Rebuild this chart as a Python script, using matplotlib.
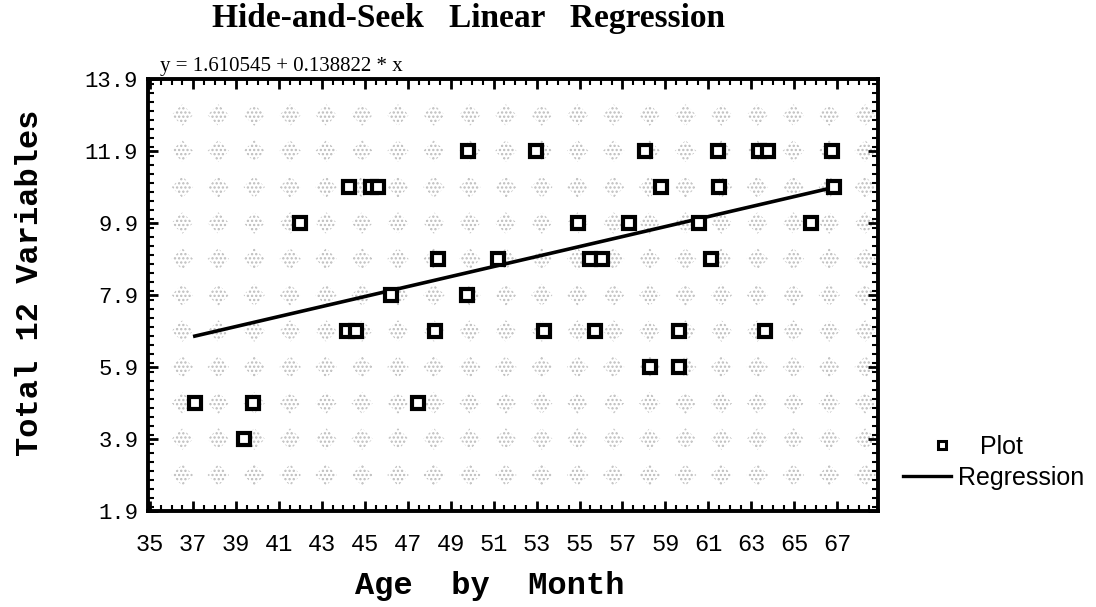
import numpy as np
import matplotlib
matplotlib.use("Agg")
import matplotlib.pyplot as plt
from matplotlib.ticker import MultipleLocator, FixedLocator
from matplotlib.lines import Line2D

# regression coefficients printed on the chart
intercept = 1.610545
slope = 0.138822

# observed points (age in months, total of 12 variables)
age = [49.8, 52.95, 58.07, 61.43, 63.34, 63.76, 66.75,
       44.24, 45.29, 45.6, 58.8, 61.5, 66.86,
       41.96, 54.92, 57.3, 60.55, 65.78,
       48.4, 51.2, 55.5, 56.06, 61.12,
       46.22, 49.76,
       44.18, 44.6, 48.27, 53.33, 55.7, 59.65, 63.65,
       58.26, 59.65,
       37.08, 39.79, 47.47,
       39.37]
total = [11.9] * 7 + [10.9] * 6 + [9.9] * 5 + [8.9] * 5 + [7.9] * 2 + \
        [6.9] * 7 + [5.9] * 2 + [4.9] * 3 + [3.9]

x_ticks = list(range(35, 68, 2))
y_ticks = [1.9, 3.9, 5.9, 7.9, 9.9, 11.9, 13.9]

plt.rcParams["hatch.linewidth"] = 1.1

fig = plt.figure(figsize=(10.96, 6.07), dpi=100)
ax = fig.add_axes([148 / 1096, 1 - 511 / 607, 730 / 1096, 432 / 607])
ax.set_xlim(34.9, 68.9)
ax.set_ylim(1.9, 13.9)

# speckled background texture of the original scan
gx = np.arange(36.5, 68.9, 1.674)
gy = np.arange(2.9, 13.0, 1.0)
GX, GY = np.meshgrid(gx, gy)
ax.scatter(GX.ravel(), GY.ravel(), marker="D", s=120, facecolors="none",
           edgecolors="#bcbcbc", linewidths=0, hatch="....", zorder=1)

ax.plot(age, total, linestyle="none", marker="s", markersize=9,
        markerfacecolor="white", markeredgecolor="black",
        markeredgewidth=3, zorder=3)

xs = np.array([min(age), max(age)])
ax.plot(xs, intercept + slope * xs, color="black", linewidth=2.6, zorder=2)

ax.xaxis.set_major_locator(FixedLocator(x_ticks))
ax.xaxis.set_minor_locator(MultipleLocator(0.5))
ax.yaxis.set_major_locator(FixedLocator(y_ticks))
ax.yaxis.set_minor_locator(MultipleLocator(0.25))
ax.set_yticklabels([f"{v:.1f}" for v in y_ticks])
ax.tick_params(which="both", direction="in", top=True, right=True,
               color="black")
ax.tick_params(which="major", length=7, width=2)
ax.tick_params(which="minor", length=4, width=1.5)
ax.tick_params(axis="x", which="major", pad=16)
ax.tick_params(axis="y", which="major", pad=7)
for lab in ax.get_xticklabels():
    lab.set_family("Liberation Mono")
    lab.set_fontsize(17)
for lab in ax.get_yticklabels():
    lab.set_family("Liberation Mono")
    lab.set_fontsize(16)
for sp in ax.spines.values():
    sp.set_linewidth(2.8)

fig.text(469 / 1096, 1 - 19 / 607, "Hide-and-Seek   Linear   Regression",
         ha="center", va="center", fontsize=24, fontweight="bold",
         family="Liberation Serif")
fig.text(160 / 1096, 1 - 67 / 607, "y = 1.610545 + 0.138822 * x",
         ha="left", va="center", fontsize=15, family="Liberation Serif")
fig.text(490 / 1096, 1 - 586 / 607, "Age  by  Month", ha="center",
         va="center", fontsize=23, fontweight="bold", family="Liberation Mono")
fig.text(30 / 1096, 1 - 283 / 607, "Total 12 Variables", ha="center",
         va="center", rotation=90, fontsize=23, fontweight="bold",
         family="Liberation Mono")

# legend: two entries, placed as in the original
leg_font = {"family": "Liberation Sans", "size": 18}
plot_handle = Line2D([], [], linestyle="none", marker="s", markersize=6,
                     markerfacecolor="white", markeredgecolor="black",
                     markeredgewidth=2.2)
reg_handle = Line2D([], [], color="black", linewidth=2.4)
leg1 = fig.legend([plot_handle], ["Plot"], loc="center left",
                  bbox_to_anchor=(929.5 / 1096, 1 - 447 / 607), frameon=False,
                  prop=leg_font, handlelength=1.0, handletextpad=1.02,
                  borderpad=0, borderaxespad=0)
leg2 = fig.legend([reg_handle], ["Regression"], loc="center left",
                  bbox_to_anchor=(903 / 1096, 1 - 478 / 607), frameon=False,
                  prop=leg_font, handlelength=1.9, handletextpad=0.3,
                  borderpad=0, borderaxespad=0)

fig.savefig("out.png", dpi=100)
